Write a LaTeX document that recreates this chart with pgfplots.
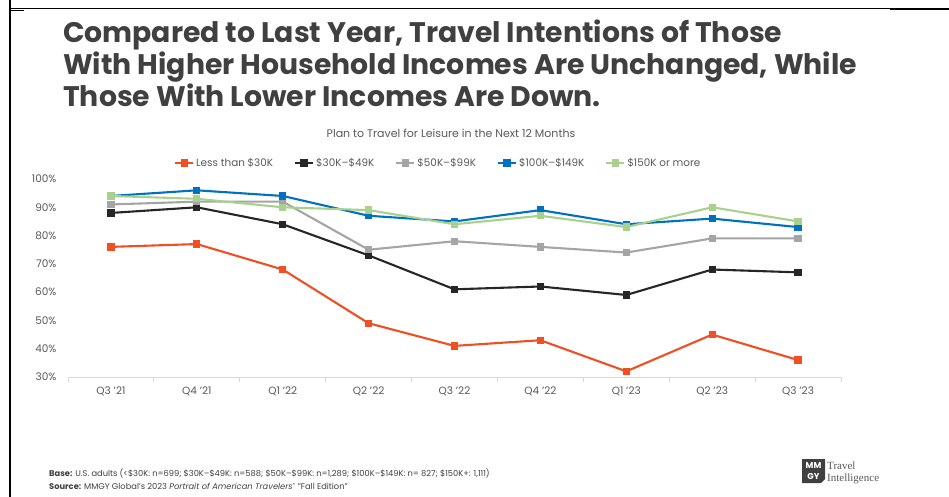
\documentclass[border=0pt]{standalone}
\usepackage{pgfplots}
\pgfplotsset{compat=1.18}
\usepackage{fontspec}
\setmainfont{Poppins}
\newfontfamily\serifl{Liberation Serif}
\definecolor{cRed}{HTML}{F04E23}
\definecolor{cBlack}{HTML}{262626}
\definecolor{cGray}{HTML}{A5A5A5}
\definecolor{cBlue}{HTML}{0070C0}
\definecolor{cGreen}{HTML}{A9D18E}
\definecolor{titlegray}{HTML}{404040}
\definecolor{txtgray}{HTML}{595959}
\definecolor{axgray}{HTML}{D9D9D9}
\begin{document}
\begin{tikzpicture}[x=1pt,y=1pt]
\path[use as bounding box] (0pt,0pt) rectangle (949pt,-497pt);
\fill[white] (0pt,0pt) rectangle (949pt,-497pt);
\draw[line width=1.5pt] (10pt,0pt) -- (10pt,-497pt);
\draw[line width=0.8pt] (10pt,-8pt) -- (890pt,-8pt);
\draw[line width=1.6pt] (890pt,-9pt) -- (949pt,-9pt);
\draw[line width=0.8pt] (10pt,-10pt) -- (24pt,-10pt);
\node[anchor=base west, align=left, font=\fontsize{28.3}{32}\selectfont\bfseries, text=titlegray, inner sep=0] at (63pt,-107pt)
 {Compared to Last Year, Travel Intentions of Those\\With Higher Household Incomes Are Unchanged, While\\Those With Lower Incomes Are Down.};
\node[font=\fontsize{11}{12}\selectfont, text=txtgray] at (451pt,-133pt) {Plan to Travel for Leisure in the Next 12 Months};
\begin{axis}[
  at={(68pt,-377pt)}, anchor=south west, scale only axis,
  width=773pt, height=198pt,
  xmin=-0.5, xmax=8.5, ymin=30, ymax=100,
  axis lines*=left,
  y axis line style={draw=none},
  x axis line style={draw=axgray, line width=1pt},
  xtick={0,...,8},
  xticklabels={Q3 '21, Q4 '21, Q1 '22, Q2 '22, Q3 '22, Q4 '22, Q1 '23, Q2 '23, Q3 '23},
  minor xtick={-0.5,0.5,...,8.5},
  major tick length=0pt, minor tick length=5pt, tick align=outside,
  minor tick style={draw=axgray, line width=1pt},
  ytick={30,40,...,100},
  yticklabel={\pgfmathprintnumber{\tick}\%},
  /pgf/number format/assume math mode=true,
  ticklabel style={font=\fontsize{10.5}{12}\selectfont, text=txtgray},
  yticklabel style={xshift=-8pt},
  xticklabel style={yshift=-6pt},
  every axis plot/.append style={line width=2.1pt, mark=square*, mark size=2.6pt},
  legend columns=5,
  legend style={at={(0.479,1.081)}, anchor=center, draw=none, fill=none,
    font=\fontsize{10.4}{12}\selectfont, text=txtgray,
    /tikz/every even column/.append style={column sep=19pt}},
  legend cell align=left,
  legend image code/.code={\draw[mark repeat=2,mark phase=2] plot coordinates {(0pt,0pt) (9pt,0pt) (18pt,0pt)};},
]
\addplot[cRed] coordinates {(0,76) (1,77) (2,68) (3,49) (4,41) (5,43) (6,32) (7,45) (8,36)};
\addlegendentry{Less than \$30K}
\addplot[cBlack] coordinates {(0,88) (1,90) (2,84) (3,73) (4,61) (5,62) (6,59) (7,68) (8,67)};
\addlegendentry{\$30K–\$49K}
\addplot[cGray] coordinates {(0,91) (1,92) (2,92) (3,75) (4,78) (5,76) (6,74) (7,79) (8,79)};
\addlegendentry{\$50K–\$99K}
\addplot[cBlue] coordinates {(0,94) (1,96) (2,94) (3,87) (4,85) (5,89) (6,84) (7,86) (8,83)};
\addlegendentry{\$100K–\$149K}
\addplot[cGreen] coordinates {(0,94) (1,93) (2,90) (3,89) (4,84) (5,87) (6,83) (7,90) (8,85)};
\addlegendentry{\$150K or more}
\end{axis}
\node[anchor=base west, inner sep=0, font=\fontsize{8.3}{9}\selectfont, text=titlegray] at (49pt,-476pt)
 {\textbf{Base:} U.S. adults (<\$30K: n=699; \$30K–\$49K: n=588; \$50K–\$99K: n=1,289; \$100K–\$149K: n= 827; \$150K+: 1,111)};
\node[anchor=base west, inner sep=0, font=\fontsize{8.3}{9}\selectfont, text=titlegray] at (49pt,-489pt)
 {\textbf{Source:} MMGY Global's 2023 \textit{Portrait of American Travelers}\textsuperscript{\fontsize{4.5}{4.5}\selectfont ®} "Fall Edition"};
\fill[titlegray] (802pt,-459pt) -- (825pt,-459pt) -- (825pt,-479pt) -- (821pt,-483pt) -- (802pt,-483pt) -- cycle;
\node[text=white, font=\fontsize{8.5}{9}\selectfont\bfseries, inner sep=0] at (813.5pt,-465.5pt) {MM};
\node[text=white, font=\fontsize{8.5}{9}\selectfont\bfseries, inner sep=0] at (813.5pt,-476.5pt) {GY};
\node[anchor=base west, inner sep=0, text=txtgray, font=\serifl\fontsize{11}{12}\selectfont] at (827pt,-469pt) {Travel};
\node[anchor=base west, inner sep=0, text=txtgray, font=\serifl\fontsize{11}{12}\selectfont] at (827pt,-481.5pt) {Intelligence};
\end{tikzpicture}
\end{document}
